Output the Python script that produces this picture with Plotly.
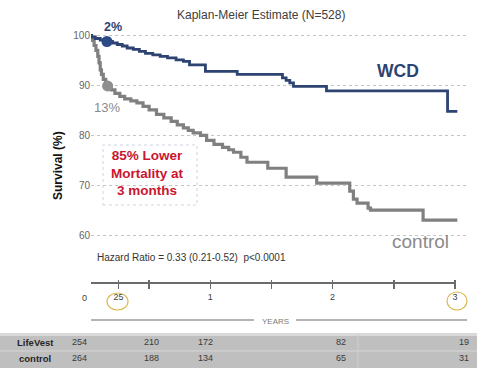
import plotly.graph_objects as go

# ---------------- data ----------------
wcd_t = [0.00, 0.03, 0.06, 0.10, 0.15, 0.20, 0.24, 0.28, 0.32, 0.37, 0.42, 0.47, 0.53,
         0.59, 0.65, 0.72, 0.78, 0.83, 0.96, 1.22, 1.59, 1.62, 1.65, 1.68, 1.95, 2.94, 3.02]
wcd_s = [100.0, 99.7, 99.4, 99.1, 98.8, 98.5, 98.2, 97.9, 97.5, 97.2, 96.8, 96.4, 96.1,
         95.8, 95.5, 95.1, 94.8, 94.1, 92.8, 92.2, 91.5, 91.0, 90.5, 89.8, 88.9, 84.8, 84.8]

ctrl_t = [0.000, 0.020, 0.035, 0.050, 0.065, 0.080, 0.090, 0.100, 0.110, 0.125, 0.145, 0.165,
          0.19, 0.22, 0.26, 0.30, 0.35, 0.40, 0.45, 0.50, 0.56, 0.62, 0.68, 0.73, 0.78, 0.82,
          0.86, 0.92, 0.97, 1.03, 1.10, 1.15, 1.19, 1.25, 1.30, 1.47, 1.62, 1.87, 2.14, 2.17,
          2.20, 2.29, 2.31, 2.74, 3.02]
ctrl_s = [100.0, 99.6, 99.0, 98.0, 97.0, 95.8, 94.5, 93.1, 92.2, 91.2, 90.5, 89.9,
          89.1, 88.4, 87.8, 87.3, 86.9, 86.5, 85.8, 85.1, 84.2, 83.5, 82.8, 82.1, 81.5, 81.0,
          80.5, 80.0, 79.0, 78.2, 77.6, 77.1, 76.6, 75.6, 74.6, 73.4, 71.6, 70.4, 68.8, 67.2,
          66.4, 65.4, 65.0, 63.0, 63.0]

wcd_mark_t = [0.155]
wcd_mark_s = [98.8]
ctrl_mark_t = [0.16]
ctrl_mark_s = [89.9]

y_tickvals = [60, 70, 80, 90, 100]
x_tickvals = [0.25, 0.5, 1, 1.5, 2, 2.5, 3]
x_ticktext = ["25", "", "1", "", "2", "", "3"]

risk_times = [0, 0.5, 1, 2, 3]
risk_wcd = [254, 210, 172, 82, 19]
risk_ctrl = [264, 188, 134, 65, 31]
row_labels = ["LifeVest", "control"]

# ---------------- geometry (pixels) ----------------
W_FIG, H_FIG = 477, 368
L, R, T, B = 91, 467, 25, 279
PW, PH = R - L, B - T
X0_PX, X_SCALE = 88, 122.3      # pixel of t=0, px per year
Y100_PX, Y_SCALE = 35.5, 4.99   # pixel of 100 %, px per %

x_range = [(L - X0_PX) / X_SCALE, (R - X0_PX) / X_SCALE]
y_range = [100 - (B - Y100_PX) / Y_SCALE, 100 + (Y100_PX - T) / Y_SCALE]


def px(x):
    return (x - L) / PW


def py(y):
    return (B - y) / PH


def t2paper(t):
    return (t - x_range[0]) / (x_range[1] - x_range[0])


NAVY = "#2d4371"
GREY = "#808080"
FONT = "Liberation Sans, Arial, sans-serif"

fig = go.Figure()
fig.add_trace(go.Scatter(x=ctrl_t, y=ctrl_s, mode="lines", line=dict(color=GREY, width=3.2, shape="hv"),
                         hoverinfo="skip"))
fig.add_trace(go.Scatter(x=wcd_t, y=wcd_s, mode="lines", line=dict(color=NAVY, width=2.8, shape="hv"),
                         hoverinfo="skip"))
fig.add_trace(go.Scatter(x=ctrl_mark_t, y=ctrl_mark_s, mode="markers",
                         marker=dict(color="#8f8f8f", size=11), hoverinfo="skip"))
fig.add_trace(go.Scatter(x=wcd_mark_t, y=wcd_mark_s, mode="markers",
                         marker=dict(color="#2c4a86", size=11), hoverinfo="skip"))

shapes = []
# x axis line
shapes.append(dict(type="line", xref="paper", yref="paper", x0=0, x1=t2paper(3.0),
                   y0=py(283), y1=py(283), line=dict(color="#6b6b6b", width=2)))
# circles around tick labels
for cx, cy, rx, ry in [(117.5, 301.5, 10.5, 8.5), (457, 301, 10, 9)]:
    shapes.append(dict(type="circle", xref="paper", yref="paper",
                       x0=px(cx - rx), x1=px(cx + rx), y0=py(cy + ry), y1=py(cy - ry),
                       line=dict(color="#d9b84a", width=1.2)))
# YEARS line with gap
shapes.append(dict(type="line", xref="paper", yref="paper", x0=px(91), x1=px(254),
                   y0=py(320), y1=py(320), line=dict(color="#6b6b6b", width=1.2)))
shapes.append(dict(type="line", xref="paper", yref="paper", x0=px(296), x1=px(467),
                   y0=py(320), y1=py(320), line=dict(color="#6b6b6b", width=1.2)))
# dotted box around red text
shapes.append(dict(type="rect", xref="paper", yref="paper", x0=px(103), x1=px(197),
                   y0=py(205), y1=py(145), line=dict(color="#cdd4e2", width=1, dash="dot")))
# risk table band
shapes.append(dict(type="rect", xref="paper", yref="paper", x0=px(0), x1=px(W_FIG),
                   y0=py(H_FIG), y1=py(333), fillcolor="#bfbfbf", line=dict(width=0), layer="below"))
shapes.append(dict(type="rect", xref="paper", yref="paper", x0=px(0), x1=px(W_FIG),
                   y0=py(336), y1=py(333), fillcolor="#d9d9d9", line=dict(width=0), layer="below"))
shapes.append(dict(type="line", xref="paper", yref="paper", x0=px(0), x1=px(W_FIG),
                   y0=py(351), y1=py(351), line=dict(color="#d6d6d6", width=1)))
shapes.append(dict(type="line", xref="paper", yref="paper", x0=px(358), x1=px(358),
                   y0=py(368), y1=py(334), line=dict(color="#cfcfcf", width=1)))

ann = []


def add_text(text, x, y, size, color, bold=False, xanchor="center", angle=0):
    ann.append(dict(text=("<b>%s</b>" % text) if bold else text, xref="paper", yref="paper",
                    x=px(x), y=py(y), xanchor=xanchor, yanchor="middle", showarrow=False,
                    textangle=angle, font=dict(family=FONT, size=size, color=color)))


add_text("Kaplan-Meier Estimate (N=528)", 260.5, 15, 12, "#404040")
add_text("Survival (%)", 58, 166, 12, "#111111", bold=True, angle=-90)
add_text("2%", 113, 27, 12.5, NAVY, bold=True)
add_text("13%", 106.5, 107, 13, "#8a8a8a")
add_text("WCD", 397.5, 71, 17.5, NAVY, bold=True)
add_text("control", 420, 241, 19, "#8a8a8a")
add_text("85% Lower<br>Mortality at<br>3 months", 147.5, 173, 13.5, "#c9162f", bold=True)
add_text("Hazard Ratio = 0.33 (0.21-0.52)  p&lt;0.0001", 95, 257, 10, "#333333", xanchor="left")
add_text("0", 84, 298, 9, "#404040")
add_text("YEARS", 275, 321, 8, "#7a7a7a")

col_shift = [-8.5, 2, -5, 8.5, 9]
for i, t in enumerate(risk_times):
    xp = X0_PX + t * X_SCALE + col_shift[i]
    add_text(str(risk_wcd[i]), xp, 342, 9, "#3a3a3a")
    add_text(str(risk_ctrl[i]), xp, 358, 9, "#3a3a3a")
add_text(row_labels[0], 35, 342, 9.5, "#262626", bold=True)
add_text(row_labels[1], 35, 358, 9.5, "#262626", bold=True)

fig.update_layout(
    width=W_FIG, height=H_FIG,
    margin=dict(l=L, r=W_FIG - R, t=T, b=H_FIG - B, pad=0),
    paper_bgcolor="white", plot_bgcolor="white",
    showlegend=False,
    font=dict(family=FONT),
    shapes=shapes, annotations=ann,
    xaxis=dict(range=x_range, showgrid=False, zeroline=False, showline=False,
               tickmode="array", tickvals=x_tickvals, ticktext=x_ticktext,
               ticks="outside", ticklen=9, tickwidth=1.5, tickcolor="#6b6b6b",
               tickfont=dict(size=9, color="#404040")),
    yaxis=dict(range=y_range, showgrid=True, gridcolor="#c4c4c4", griddash="dot", gridwidth=1,
               zeroline=False, showline=False, tickmode="array", tickvals=y_tickvals,
               ticks="", tickfont=dict(size=10, color="#666666")),
)

fig.write_html("out.html",
               config={"displayModeBar": False, "staticPlot": True},
               post_script="document.body.style.margin='0';document.body.style.padding='0';"
                           "document.body.style.overflow='hidden';")
